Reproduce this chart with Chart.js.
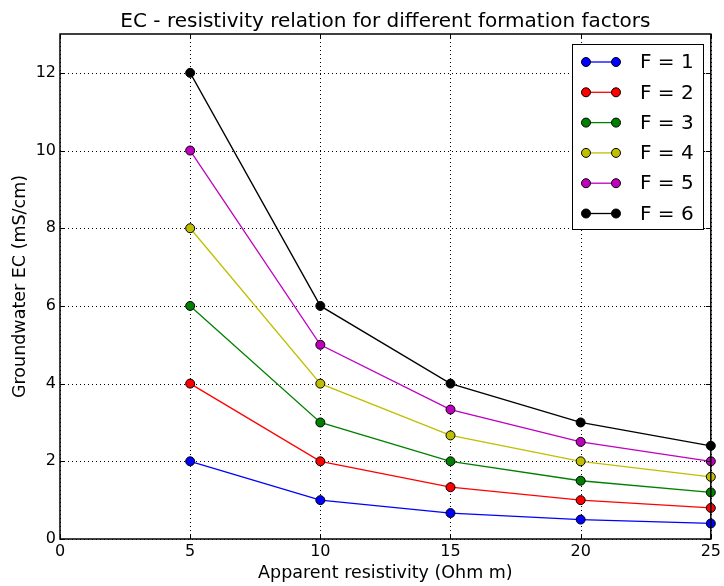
<!DOCTYPE html>
<html>
<head>
<meta charset="utf-8">
<script src="https://cdn.jsdelivr.net/npm/chart.js@4.4.0/dist/chart.umd.min.js"></script>
<style>
	html, body { margin: 0; padding: 0; background: #fff; }
	#wrap { width: 724px; height: 586px; }
</style>
</head>
<body>
<div id="wrap"><canvas id="chart0" width="724" height="586"></canvas></div>
<script>
// apparent resistivity (Ohm m)
const resistivity = [5, 10, 15, 20, 25];

// groundwater EC (mS/cm) per formation factor
const ecF1 = [2, 1, 0.667, 0.5, 0.4];
const ecF2 = [4, 2, 1.333, 1, 0.8];
const ecF3 = [6, 3, 2, 1.5, 1.2];
const ecF4 = [8, 4, 2.667, 2, 1.6];
const ecF5 = [10, 5, 3.333, 2.5, 2];
const ecF6 = [12, 6, 4, 3, 2.4];

const seriesNames = ["F = 1", "F = 2", "F = 3", "F = 4", "F = 5", "F = 6"];
const seriesValues = [ecF1, ecF2, ecF3, ecF4, ecF5, ecF6];
const seriesColors = ["#0000ff", "#ff0000", "#008000", "#bfbf00", "#bf00bf", "#000000"];

const fontFamily = "'DejaVu Sans', sans-serif";

function makeDatasets() {
	return seriesValues.map((vals, i) => ({
		label: seriesNames[i],
		data: vals.map((v, j) => ({ x: resistivity[j], y: v })),
		borderColor: seriesColors[i],
		backgroundColor: seriesColors[i],
		pointBackgroundColor: seriesColors[i],
		pointBorderColor: "#000",
		pointBorderWidth: 1,
		pointRadius: 4.5,
		borderWidth: 1.3,
		fill: false,
		tension: 0,
		order: 6 - i,
		clip: false
	}));
}

// dotted grid under the lines
const dottedGrid = {
	id: "dottedGrid",
	beforeDatasetsDraw(chart) {
		const ctx = chart.ctx;
		const a = chart.chartArea;
		const xs = chart.scales.x;
		const ys = chart.scales.y;
		ctx.save();
		ctx.strokeStyle = "#000";
		ctx.lineWidth = 1;
		ctx.setLineDash([1, 3]);
		ctx.beginPath();
		xs.ticks.forEach(t => {
			const px = Math.round(xs.getPixelForValue(t.value)) + 0.5;
			ctx.moveTo(px, a.bottom); ctx.lineTo(px, a.top);
		});
		ys.ticks.forEach(t => {
			const py = Math.round(ys.getPixelForValue(t.value)) + 0.5;
			ctx.moveTo(a.left, py); ctx.lineTo(a.right, py);
		});
		ctx.stroke();
		ctx.restore();
	}
};

// frame, inward tick marks, title and boxed legend
const decorations = {
	id: "decorations",
	afterDraw(chart) {
		const ctx = chart.ctx;
		const a = chart.chartArea;
		const xs = chart.scales.x;
		const ys = chart.scales.y;
		ctx.save();

		ctx.strokeStyle = "#000";
		ctx.lineWidth = 1;
		ctx.setLineDash([]);
		ctx.beginPath();
		xs.ticks.forEach(t => {
			const px = Math.round(xs.getPixelForValue(t.value)) + 0.5;
			ctx.moveTo(px, a.bottom); ctx.lineTo(px, a.bottom - 5);
			ctx.moveTo(px, a.top); ctx.lineTo(px, a.top + 5);
		});
		ys.ticks.forEach(t => {
			const py = Math.round(ys.getPixelForValue(t.value)) + 0.5;
			ctx.moveTo(a.left, py); ctx.lineTo(a.left + 5, py);
			ctx.moveTo(a.right, py); ctx.lineTo(a.right - 5, py);
		});
		ctx.stroke();

		ctx.lineWidth = 1.5;
		ctx.strokeRect(a.left, a.top, a.right - a.left, a.bottom - a.top);

		// title
		ctx.fillStyle = "#000";
		ctx.font = "20px " + fontFamily;
		ctx.textAlign = "center";
		ctx.textBaseline = "alphabetic";
		ctx.fillText("EC - resistivity relation for different formation factors", (a.left + a.right) / 2, 27);

		// legend
		const lx = 572, ly = 44, lw = 131, lh = 185;
		ctx.fillStyle = "#fff";
		ctx.fillRect(lx, ly, lw, lh);
		ctx.lineWidth = 1;
		ctx.strokeStyle = "#000";
		ctx.strokeRect(lx + 0.5, ly + 0.5, lw, lh);
		chart.data.datasets.forEach((ds, i) => {
			const y = ly + 18 + i * 30.3;
			ctx.strokeStyle = ds.borderColor;
			ctx.lineWidth = 1.3;
			ctx.beginPath();
			ctx.moveTo(586, y); ctx.lineTo(616, y);
			ctx.stroke();
			[586, 616].forEach(px => {
				ctx.beginPath();
				ctx.arc(px, y, 4.5, 0, Math.PI * 2);
				ctx.fillStyle = ds.pointBackgroundColor;
				ctx.fill();
				ctx.lineWidth = 1;
				ctx.strokeStyle = "#000";
				ctx.stroke();
			});
			ctx.fillStyle = "#000";
			ctx.font = "20px " + fontFamily;
			ctx.textAlign = "left";
			ctx.textBaseline = "middle";
			ctx.fillText(ds.label, 640, y + 1);
		});
		ctx.restore();
	}
};

function plotChart() {
	new Chart("chart0", {
		type: "line",
		data: { datasets: makeDatasets() },
		options: {
			responsive: false,
			animation: false,
			events: [],
			layout: { padding: { top: 34, right: 13, left: 0, bottom: 0 } },
			plugins: {
				legend: { display: false },
				tooltip: { enabled: false },
				title: { display: false }
			},
			scales: {
				x: {
					type: "linear",
					min: 0,
					max: 25,
					ticks: {
						stepSize: 5,
						color: "#000",
						font: { family: fontFamily, size: 16 },
						padding: 3,
						maxRotation: 0
					},
					grid: { display: false, drawTicks: false },
					border: { display: false },
					title: {
						display: true,
						text: "Apparent resistivity (Ohm m)",
						color: "#000",
						font: { family: fontFamily, size: 17.5 },
						padding: { top: 0, bottom: 2 }
					},
					afterFit(scale) { scale.height = 47; }
				},
				y: {
					min: 0,
					max: 13,
					ticks: {
						stepSize: 2,
						includeBounds: false,
						color: "#000",
						font: { family: fontFamily, size: 16 },
						padding: 4
					},
					grid: { display: false, drawTicks: false },
					border: { display: false },
					title: {
						display: true,
						text: "Groundwater EC (mS/cm)",
						color: "#000",
						font: { family: fontFamily, size: 17.5 },
						padding: { top: 10, bottom: 0 }
					},
					afterFit(scale) { scale.width = 60; }
				}
			}
		},
		plugins: [dottedGrid, decorations]
	});
}

plotChart();
</script>
</body>
</html>
